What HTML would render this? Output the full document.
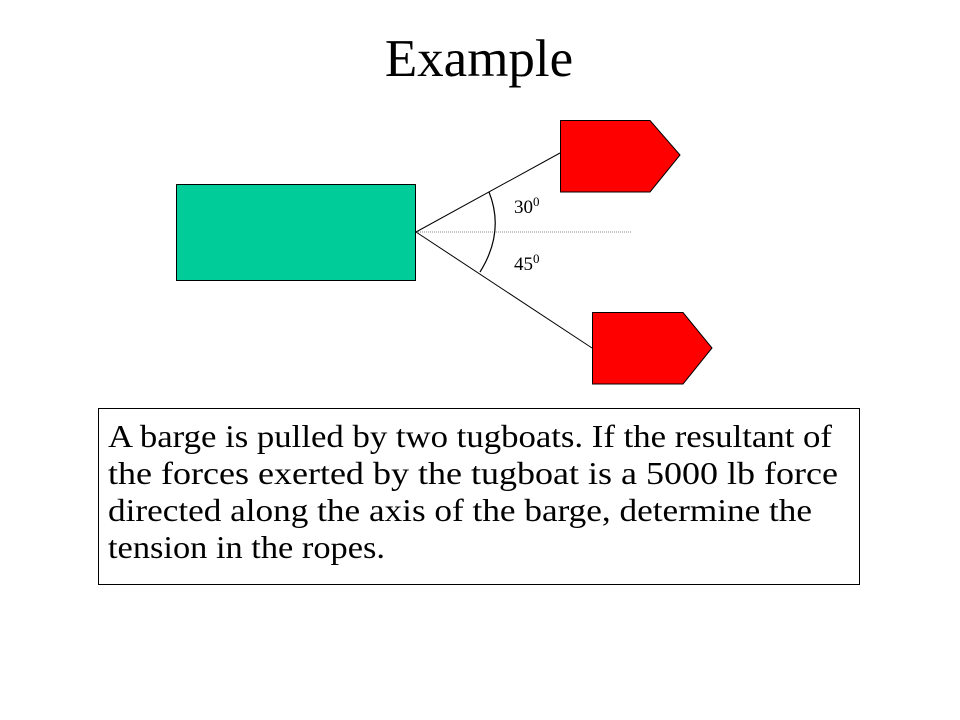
<!DOCTYPE html>
<html><head><style>html,body{margin:0;padding:0;background:#fff}svg{display:block}</style></head>
<body>
<svg width="960" height="720" xmlns="http://www.w3.org/2000/svg" font-family="Liberation Serif, serif">
<text x="479" y="76" font-size="53" text-anchor="middle">Example</text>
<rect x="176.5" y="184.5" width="239" height="96" fill="#00cc99" stroke="#000" stroke-width="1"/>
<line x1="416" y1="232" x2="632" y2="232" stroke="#888" stroke-width="1" stroke-dasharray="1,1"/>
<line x1="416" y1="232" x2="560" y2="153" stroke="#000" stroke-width="1"/>
<line x1="416" y1="232" x2="592" y2="348" stroke="#000" stroke-width="1"/>
<path d="M489 192 Q505 232 480 272" fill="none" stroke="#000" stroke-width="1.2"/>
<polygon points="560.5,120.5 650,120.5 680,155 650,192 560.5,192" fill="#ff0000" stroke="#000" stroke-width="1"/>
<polygon points="592.5,312.5 683,312.5 712,348 683,384 592.5,384" fill="#ff0000" stroke="#000" stroke-width="1"/>
<text x="514" y="213" font-size="19">30<tspan dy="-7" font-size="13">0</tspan></text>
<text x="514" y="270" font-size="19">45<tspan dy="-7" font-size="13">0</tspan></text>
<rect x="98.5" y="408.5" width="761" height="176" fill="none" stroke="#000" stroke-width="1"/>
<g font-size="32">
<text x="108" y="447" textLength="724" lengthAdjust="spacingAndGlyphs">A barge is pulled by two tugboats. If the resultant of</text>
<text x="108" y="484" textLength="730" lengthAdjust="spacingAndGlyphs">the forces exerted by the tugboat is a 5000 lb force</text>
<text x="108" y="521" textLength="704" lengthAdjust="spacingAndGlyphs">directed along the axis of the barge, determine the</text>
<text x="108" y="558" textLength="277" lengthAdjust="spacingAndGlyphs">tension in the ropes.</text>
</g>
</svg>
</body></html>
